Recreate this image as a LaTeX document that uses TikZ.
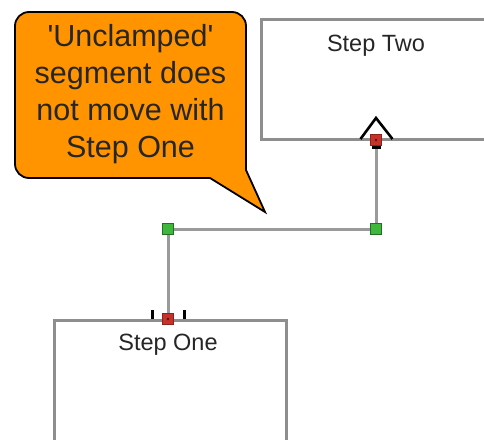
\documentclass[tikz,border=0pt]{standalone}
\usepackage{fontspec}
\setmainfont{Liberation Sans}
\usetikzlibrary{positioning}

\definecolor{boxgray}{HTML}{8E8E8E}
\definecolor{linkgray}{HTML}{9A9A9A}
\definecolor{calloutorange}{HTML}{FF9400}
\definecolor{portred}{HTML}{C8302A}
\definecolor{portgreen}{HTML}{3DB83D}

\begin{document}
\begin{tikzpicture}[x=1pt,y=-1pt,
	stepbox/.style={draw=boxgray,line width=2.6pt,fill=white,inner sep=0pt,anchor=north west},
	steptext/.style={font=\fontsize{23.5}{27}\selectfont,text=black!85},
	link/.style={draw=linkgray,line width=3pt},
	redport/.style={draw=portred!70!black,fill=portred,line width=1pt,minimum size=10.5pt,inner sep=0pt},
	greenport/.style={draw=portgreen!60!black,fill=portgreen,line width=1pt,minimum size=10.5pt,inner sep=0pt},
	tick/.style={black,line width=3pt}
	]

\useasboundingbox[fill=white] (0,0) rectangle (484,439);

% the two steps
\node[stepbox,minimum width=250pt,minimum height=120pt] (two) at (260,18) {};
\node[steptext] (twolabel) at ([yshift=-27.5pt]two.north -| 376,0) {Step Two};

\node[stepbox,minimum width=232pt,minimum height=140pt] (one) at (53,319) {};
\node[steptext] (onelabel) at ([yshift=-26pt]one.north -| 168,0) {Step One};

% connector points
\coordinate (oneend) at (168,319);
\coordinate (bendA) at (168,229);
\coordinate (bendB) at (376,229);
\coordinate (twoend) at (376,140);

\draw[link] (oneend) -- (bendA) -- (bendB) -- (twoend);

% arrow end under step two
\fill[black] ([xshift=-4.5pt,yshift=-4pt]twoend) rectangle ([xshift=4.5pt,yshift=-9pt]twoend);
\draw[black,line width=2.6pt,line join=miter] ([xshift=-15.5pt,yshift=1pt]twoend) -- ([yshift=22pt]twoend) -- ([xshift=16.5pt,yshift=1pt]twoend);

% clamp marks on step one
\draw[tick] ([xshift=-15.5pt]oneend) -- ++(0,-9);
\draw[tick] ([xshift=16.5pt]oneend) -- ++(0,-9);

\node[redport] (oneport) at (oneend) {};
\fill[portred!40!black] (oneport.center) circle (1.3pt);
\node[redport] (twoport) at (twoend) {};
\fill[portred!40!black] (twoport.center) circle (1.3pt);
\node[greenport] (bendAport) at (bendA) {};
\node[greenport] (bendBport) at (bendB) {};

% the callout
\draw[fill=calloutorange,line width=1.8pt,line join=miter]
	(29,12) -- (232,12) arc (-90:0:14) -- (246,170) -- (265,212) -- (210,178)
	-- (29,178) arc (90:180:14) -- (15,26) arc (180:270:14) -- cycle;
\node[align=center,font=\fontsize{30.5}{37}\selectfont,text=black!85] (note) at (130.5,94)
	{\textquotesingle Unclamped\textquotesingle\\segment does\\not move with\\Step One};

\end{tikzpicture}
\end{document}
